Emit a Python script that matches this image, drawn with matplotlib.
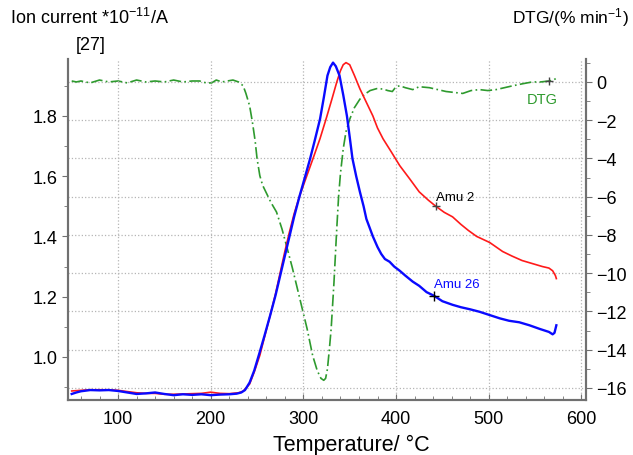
import matplotlib
matplotlib.use('Agg')
import matplotlib.pyplot as plt
from matplotlib.ticker import MultipleLocator

plt.rcParams['font.family'] = ['Liberation Sans', 'DejaVu Sans']
plt.rcParams['mathtext.fontset'] = 'custom'
plt.rcParams['mathtext.rm'] = 'Liberation Sans'
plt.rcParams['mathtext.it'] = 'Liberation Sans'

# Amu 26 (blue), ion current
t_blue = [50, 55, 60, 70, 80, 90, 100, 110, 120, 130, 140, 150, 160, 170, 180, 190, 200, 210, 220, 228,
          233, 237, 242, 247, 253, 258, 264, 270, 275, 280, 285, 290, 296, 302, 307, 312, 318, 322, 326, 329,
          332, 335, 339, 343, 347, 350, 353, 357, 361, 365, 368, 372, 375, 380, 384, 388, 393, 398, 404,
          410, 418, 425, 433, 441, 450, 461, 470, 480, 490, 500, 512, 522, 533, 544, 555, 565, 569, 571, 573]
amu26 = [0.877, 0.882, 0.886, 0.890, 0.889, 0.890, 0.887, 0.882, 0.877, 0.879, 0.882, 0.877, 0.873, 0.876,
         0.874, 0.876, 0.873, 0.875, 0.876, 0.878, 0.882, 0.890, 0.915, 0.955, 1.017, 1.07, 1.136, 1.205,
         1.27, 1.335, 1.40, 1.465, 1.535, 1.60, 1.655, 1.715, 1.79, 1.86, 1.934, 1.962, 1.977, 1.965, 1.934,
         1.87, 1.80, 1.73, 1.658, 1.60, 1.548, 1.50, 1.458, 1.425, 1.40, 1.365, 1.342, 1.325, 1.316, 1.30,
         1.286, 1.27, 1.25, 1.236, 1.215, 1.203, 1.185, 1.173, 1.165, 1.158, 1.15, 1.14, 1.128, 1.12, 1.115,
         1.105, 1.093, 1.083, 1.075, 1.08, 1.105]

# Amu 2 (red)
t_red = [50, 60, 70, 80, 90, 100, 110, 120, 130, 140, 150, 160, 170, 180, 190, 200, 210, 220, 230, 235,
         242, 247, 253, 258, 264, 270, 275, 280, 285, 290, 296, 303, 310, 318, 325, 331, 336, 340, 343, 346,
         350, 355, 361, 368, 375, 380, 386, 395, 404, 415, 425, 435, 443, 452, 461, 470, 478, 487, 494,
         501, 508, 515, 525, 536, 547, 558, 565, 569, 572, 573]
amu2 = [0.887, 0.889, 0.891, 0.891, 0.891, 0.889, 0.885, 0.881, 0.879, 0.879, 0.876, 0.876, 0.877, 0.878,
        0.879, 0.883, 0.879, 0.878, 0.881, 0.886, 0.91, 0.95, 1.005, 1.065, 1.136, 1.21, 1.28, 1.35, 1.415,
        1.475, 1.535, 1.595, 1.655, 1.725, 1.795, 1.858, 1.912, 1.95, 1.97, 1.977, 1.97, 1.935, 1.89, 1.845,
        1.80, 1.76, 1.724, 1.68, 1.635, 1.59, 1.548, 1.52, 1.50, 1.48, 1.465, 1.44, 1.42, 1.40, 1.39, 1.38,
        1.365, 1.35, 1.335, 1.32, 1.31, 1.30, 1.295, 1.286, 1.27, 1.26]

# DTG (green, right axis)
t_dtg = [50, 55, 60, 70, 80, 90, 100, 110, 120, 130, 140, 150, 160, 170, 180, 188, 195, 201, 206, 212,
         218, 224, 230, 235, 238, 242, 245, 248, 250, 253, 256, 260, 265, 271, 277, 282, 288, 293, 299,
         304, 310, 315, 319, 322, 324, 326, 328, 330, 333, 336, 338, 340, 343, 346, 350, 355, 361, 366,
         372, 379, 386, 391, 396, 400, 404, 410, 418, 425, 436, 445, 454, 463, 472, 481, 490, 499, 508,
         517, 526, 536, 547, 556, 565, 570, 573]
dtg = [0.05, 0.0, 0.05, -0.05, 0.1, 0.0, 0.05, -0.05, 0.1, 0.0, 0.05, 0.0, 0.1, 0.0, 0.05, 0.05, -0.05,
       -0.05, 0.1, 0.0, 0.05, 0.1, 0.0, -0.2, -0.6, -1.25, -2.1, -3.1, -4.0, -4.9, -5.4, -5.8, -6.3, -6.8,
       -7.7, -8.6, -9.7, -10.7, -11.9, -12.9, -14.3, -15.1, -15.5, -15.6, -15.5, -15.0, -14.0, -12.9,
       -10.5, -7.7, -6.0, -4.8, -3.5, -2.6, -1.95, -1.35, -0.9, -0.65, -0.45, -0.35, -0.37, -0.45, -0.5,
       -0.25, -0.2, -0.3, -0.4, -0.25, -0.3, -0.4, -0.5, -0.55, -0.6, -0.45, -0.4, -0.45, -0.4, -0.3,
       -0.2, -0.1, 0.0, 0.0, 0.05, 0.1, 0.2]

# label anchor points (T, value)
lab_amu2 = (443, 1.50)
lab_amu26 = (441, 1.203)
lab_dtg = (565, 0.05)

spine_col = '#707070'
green = '#2e9a2e'

fig = plt.figure(figsize=(6.33, 4.56), dpi=100)
ax = fig.add_axes([68/633, 55/456, 518/633, 341/456])
ax2 = ax.twinx()
ax.set_zorder(ax2.get_zorder() + 1)
ax.patch.set_visible(False)

ax2.plot(t_dtg, dtg, color=green, lw=1.2, linestyle=(0, (7, 2, 1, 2)))
ax.plot(t_red, amu2, color='#ff1a1a', lw=1.2)
ax.plot(t_blue, amu26, color='#0a0aff', lw=1.7)

ax.set_xlim(46, 605)
ax.set_ylim(0.857, 1.989)
ax2.set_ylim(-16.63, 1.2)

ax.xaxis.set_major_locator(MultipleLocator(100))
ax.xaxis.set_minor_locator(MultipleLocator(20))
ax.yaxis.set_major_locator(MultipleLocator(0.2))
ax.yaxis.set_minor_locator(MultipleLocator(0.1))
ax2.yaxis.set_major_locator(MultipleLocator(2))
ax2.yaxis.set_minor_locator(MultipleLocator(1))
ax.yaxis.set_major_formatter(plt.FuncFormatter(lambda v, p: f'{v:.1f}'))
ax2.yaxis.set_major_formatter(plt.FuncFormatter(lambda v, p: f'{v:.0f}'.replace('-', '\u2212')))

ax.xaxis.grid(True, which='major', color='#b5b5b5', linestyle=':', lw=0.9)
ax2.yaxis.grid(True, which='major', color='#b5b5b5', linestyle=':', lw=0.9)

for a in (ax, ax2):
    a.spines['top'].set_visible(False)
    for s in ('left', 'right', 'bottom'):
        a.spines[s].set_color(spine_col)
        a.spines[s].set_linewidth(1.5)
ax.tick_params(axis='x', which='both', direction='in', colors=spine_col, labelcolor='black', labelsize=13, pad=7)
ax.tick_params(axis='x', which='major', length=4)
ax.tick_params(axis='x', which='minor', length=3)
ax.tick_params(axis='y', which='both', direction='out', colors=spine_col, labelcolor='black', labelsize=13)
ax.tick_params(axis='y', which='major', length=4)
ax.tick_params(axis='y', which='minor', length=3)
ax2.tick_params(axis='y', which='both', direction='out', colors=spine_col, labelcolor='black', labelsize=13)
ax2.tick_params(axis='y', which='major', length=4)
ax2.tick_params(axis='y', which='minor', length=3)

ax.plot(*lab_amu2, marker='+', color='#444444', ms=6, mew=1)
ax.plot(*lab_amu26, marker='+', color='black', ms=7, mew=1)
ax2.plot(*lab_dtg, marker='+', color='#444444', ms=6, mew=1)
ax.text(lab_amu2[0], lab_amu2[1] + 0.01, 'Amu 2', fontsize=9.5, color='black', ha='left', va='bottom')
ax.text(lab_amu26[0], lab_amu26[1] + 0.02, 'Amu 26', fontsize=9.5, color='#0a0aff', ha='left', va='bottom')
ax2.text(575, -0.5, 'DTG', fontsize=10.5, color=green, ha='right', va='top')

fig.text(351/633, 1 - 445/456, 'Temperature/ °C', fontsize=15.5, ha='center', va='center')
fig.text(10/633, 1 - 18/456, 'Ion current *10$^{-11}$/A', fontsize=13, ha='left', va='center')
fig.text(91/633, 1 - 45/456, '[27]', fontsize=13, ha='center', va='center')
fig.text(629/633, 1 - 18/456, 'DTG/(% min$^{-1}$)', fontsize=12.5, ha='right', va='center')

fig.savefig('out.png', dpi=100)
